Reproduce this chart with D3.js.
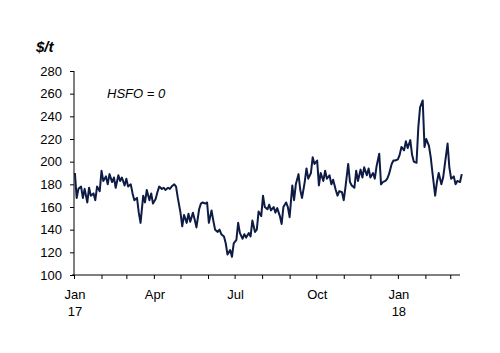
<!DOCTYPE html>
<html>
<head>
<meta charset="utf-8">
<script src="https://cdn.jsdelivr.net/npm/d3@7"></script>
<style>
  body { margin: 0; background: #fff; }
  text { font-family: "Liberation Sans", Arial, sans-serif; fill: #000; }
</style>
</head>
<body>
<div id="main"></div>
<script>
// Monday of each week; prices are Mon / Wed / Fri quotes ($/t)
const weekStarts = [
  "2017-01-02","2017-01-09","2017-01-16","2017-01-23","2017-01-30",
  "2017-02-06","2017-02-13","2017-02-20","2017-02-27",
  "2017-03-06","2017-03-13","2017-03-20","2017-03-27",
  "2017-04-03","2017-04-10","2017-04-17","2017-04-24",
  "2017-05-01","2017-05-08","2017-05-15","2017-05-22","2017-05-29",
  "2017-06-05","2017-06-12","2017-06-19","2017-06-26",
  "2017-07-03","2017-07-10","2017-07-17","2017-07-24","2017-07-31",
  "2017-08-07","2017-08-14","2017-08-21","2017-08-28",
  "2017-09-04","2017-09-11","2017-09-18","2017-09-25",
  "2017-10-02","2017-10-09","2017-10-16","2017-10-23","2017-10-30",
  "2017-11-06","2017-11-13","2017-11-20","2017-11-27",
  "2017-12-04","2017-12-11","2017-12-18","2017-12-25",
  "2018-01-01","2018-01-08","2018-01-15","2018-01-22","2018-01-29",
  "2018-02-05","2018-02-12","2018-02-19","2018-02-26",
  "2018-03-05","2018-03-12"
];
const weeklyPrices = [
  [190,168,176],[178,168,176],[164,177,170],[172,166,178],[174,192,183],
  [187,180,189],[182,186,177],[188,183,186],[179,185,178],
  [180,172,166],[168,155,146],[170,164,175],[166,172,163],
  [167,173,178],[176,177,175],[177,176,178],[180,178,168],
  [155,143,153],[146,154,147],[155,149,142],[158,163,164],[163,164,146],
  [157,148,140],[138,140,136],[134,128,118],[122,116,128],
  [131,146,137],[132,136,133],[137,134,148],[138,140,156],[152,170,160],
  [158,162,157],[160,155,159],[152,145,160],[164,160,151],
  [179,166,180],[189,175,168],[182,194,185],[190,204,198],
  [201,179,190],[183,192,185],[188,180,184],[175,170,174],[173,166,178],
  [198,182,179],[177,192,183],[193,186,195],[188,194,186],
  [190,185,196],[207,180,182],[183,185,189],[198,201,201],
  [202,206,213],[210,218,212],[219,206,200],[199,230,248],[254,213,220],
  [214,204,190],[170,182,190],[180,186,198],[216,195,185],
  [187,180,183],[182,189]
];
const yTicks = [100,120,140,160,180,200,220,240,260,280];
const xLabels = [
  {date: "2017-01-01", upper: "Jan", lower: "17"},
  {date: "2017-04-01", upper: "Apr", lower: ""},
  {date: "2017-07-01", upper: "Jul", lower: ""},
  {date: "2017-10-01", upper: "Oct", lower: ""},
  {date: "2018-01-01", upper: "Jan", lower: "18"}
];
const unitLabel = "$/t";
const noteLabel = "HSFO = 0";

const parse = d3.timeParse("%Y-%m-%d");
const points = [];
weekStarts.forEach((w, i) => {
  weeklyPrices[i].forEach((v, j) => {
    points.push({date: d3.timeDay.offset(parse(w), j * 2), value: v});
  });
});

const width = 500, height = 353;
const plotLeft = 74, plotRight = 460, plotTop = 71, plotBottom = 275;

const svg = d3.select("#main").append("svg")
  .attr("width", width)
  .attr("height", height);

const x = d3.scaleTime()
  .domain([parse("2017-01-01"), parse("2018-03-12")])
  .range([plotLeft, plotRight]);
const y = d3.scaleLinear()
  .domain([100, 280])
  .range([plotBottom, plotTop]);

// y axis
const yAxis = svg.append("g")
  .attr("transform", `translate(${plotLeft},0)`)
  .call(d3.axisLeft(y).tickValues(yTicks).tickSize(4).tickPadding(8));
yAxis.select(".domain").attr("d", `M0,${plotTop}V${plotBottom}`).attr("stroke", "#000");
yAxis.selectAll("text").attr("font-size", "13px").attr("font-family", "Liberation Sans, Arial, sans-serif").attr("fill", "#000");

// x axis with monthly ticks
const xAxis = svg.append("g")
  .attr("transform", `translate(0,${plotBottom})`)
  .call(d3.axisBottom(x).ticks(d3.timeMonth.every(1)).tickSize(4).tickFormat(""));
xAxis.select(".domain").attr("d", `M${plotLeft - 2},0H${plotRight}`).attr("stroke", "#000");

const xl = svg.append("g");
xl.selectAll("text.upper")
  .data(xLabels)
  .enter().append("text")
  .attr("class", "upper")
  .attr("x", d => x(parse(d.date)) + 1)
  .attr("y", 299)
  .attr("text-anchor", "middle")
  .attr("font-size", "13px")
  .text(d => d.upper);
xl.selectAll("text.lower")
  .data(xLabels)
  .enter().append("text")
  .attr("class", "lower")
  .attr("x", d => x(parse(d.date)) + 1)
  .attr("y", 316)
  .attr("text-anchor", "middle")
  .attr("font-size", "13px")
  .text(d => d.lower);

// line
const line = d3.line()
  .x(d => x(d.date))
  .y(d => y(d.value));

svg.append("path")
  .datum(points)
  .attr("fill", "none")
  .attr("stroke", "#0e1b45")
  .attr("stroke-width", 2)
  .attr("stroke-linejoin", "round")
  .attr("d", line);

svg.append("text")
  .attr("x", 36)
  .attr("y", 52)
  .attr("font-size", "15px")
  .attr("font-weight", "bold")
  .attr("font-style", "italic")
  .text(unitLabel);

svg.append("text")
  .attr("x", 107)
  .attr("y", 98)
  .attr("font-size", "13px")
  .attr("font-style", "italic")
  .text(noteLabel);
</script>
</body>
</html>
